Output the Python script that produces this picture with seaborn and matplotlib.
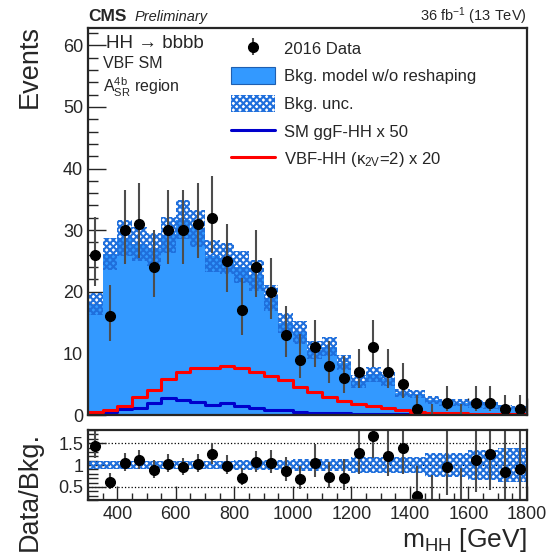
import numpy as np
import pandas as pd
import matplotlib
matplotlib.use("Agg")
import matplotlib.pyplot as plt
import seaborn as sns
from matplotlib.patches import Patch
from matplotlib.lines import Line2D
from matplotlib.ticker import MultipleLocator

# m_HH binning (GeV)
bin_edges = np.arange(300, 1801, 50)
bin_centers = 0.5 * (bin_edges[:-1] + bin_edges[1:])

# observed events per bin
data_counts = [26, 16, 30, 31, 24, 30, 30, 31, 32, 25, 17, 24, 20, 13, 9,
               11, 8, 6, 7, 11, 7, 5, 1, 0, 2, 0, 2, 2, 1, 1]

# background model w/o reshaping
bkg_model = [18.0, 26.1, 28.7, 27.8, 26.9, 29.2, 31.7, 30.3, 25.8, 25.4,
             24.0, 22.7, 19.0, 14.9, 13.4, 10.5, 11.1, 8.5, 5.5, 6.6,
             5.8, 3.6, 3.4, 2.4, 2.1, 2.0, 1.8, 1.6, 1.2, 1.1]

# relative background uncertainty
bkg_rel_unc = [0.10, 0.10, 0.10, 0.10, 0.10, 0.10, 0.10, 0.10, 0.10, 0.10,
               0.11, 0.11, 0.11, 0.11, 0.14, 0.14, 0.14, 0.14, 0.19, 0.19,
               0.19, 0.19, 0.19, 0.27, 0.27, 0.27, 0.35, 0.35, 0.38, 0.38]

# signals (scaled)
sig_ggf_x50 = [0.27, 0.45, 0.9, 1.2, 2.0, 2.7, 2.4, 2.15, 1.6, 1.9,
               1.45, 1.2, 0.8, 0.8, 0.55, 0.35, 0.3, 0.25, 0.2, 0.15,
               0.12, 0.1, 0.08, 0.07, 0.06, 0.05, 0.04, 0.04, 0.03, 0.03]
sig_vbf_x20 = [0.45, 0.8, 1.5, 2.9, 4.05, 5.8, 6.9, 7.6, 7.7, 8.0,
               7.7, 7.0, 6.3, 5.6, 4.6, 3.8, 2.9, 2.3, 1.8, 1.5,
               1.2, 0.8, 0.55, 0.4, 0.3, 0.25, 0.2, 0.15, 0.12, 0.1]

FILL = "#3399ff"
HATCH = "#1f6fdc"
HPAT = "xxxxx"

sns.set_style("ticks")
plt.rcParams["font.family"] = ["Liberation Sans", "DejaVu Sans"]
plt.rcParams["mathtext.fontset"] = "custom"
plt.rcParams["mathtext.rm"] = "Liberation Sans"
plt.rcParams["mathtext.it"] = "Liberation Sans:italic"
plt.rcParams["mathtext.bf"] = "Liberation Sans:bold"
plt.rcParams["mathtext.default"] = "regular"
plt.rcParams["hatch.linewidth"] = 1.5

df = pd.DataFrame({"mhh": bin_centers, "bkg": bkg_model,
                   "ggf": sig_ggf_x50, "vbf": sig_vbf_x20})
hist_kw = dict(bins=len(bin_centers), binrange=(bin_edges[0], bin_edges[-1]),
               element="step")

counts = np.array(data_counts, dtype=float)
bkg = np.array(bkg_model)
rel = np.array(bkg_rel_unc)

# Poisson intervals (Gehrels approx)
err_lo = np.where(counts > 0, np.sqrt(np.clip(counts - 0.25, 0, None)), 0.0)
err_hi = 1.0 + np.sqrt(counts + 0.75)
nz = counts > 0

fig = plt.figure(figsize=(5.53, 5.55), dpi=100)
W, H = 553.0, 555.0
ax = fig.add_axes([88 / W, 1 - 415 / H, 439 / W, 387 / H])
rax = fig.add_axes([88 / W, 1 - 500 / H, 439 / W, 70 / H], sharex=ax)

# ---- main panel ----
sns.histplot(data=df, x="mhh", weights="bkg", fill=True, color=FILL, alpha=1,
             linewidth=0, ax=ax, **hist_kw)
band_lo = bkg * (1 - rel)
band_hi = bkg * (1 + rel)
ax.fill_between(bin_edges, np.r_[band_lo, band_lo[-1]], np.r_[band_hi, band_hi[-1]],
                step="post", facecolor="none", edgecolor=HATCH, hatch=HPAT, linewidth=0)
sns.histplot(data=df, x="mhh", weights="ggf", fill=False, color="#0000cc",
             linewidth=2.2, ax=ax, **hist_kw)
sns.histplot(data=df, x="mhh", weights="vbf", fill=False, color="#ff0000",
             linewidth=2.2, ax=ax, **hist_kw)

data_h = ax.errorbar(bin_centers[nz], counts[nz], yerr=[err_lo[nz], err_hi[nz]],
                     fmt="o", color="black", ms=7, ecolor="0.3", elinewidth=1.5, capsize=0)
ax.errorbar(bin_centers[~nz], counts[~nz], yerr=[err_lo[~nz], err_hi[~nz]],
            fmt="none", ecolor="0.3", elinewidth=1.5, capsize=0)

ax.set_xlim(300, 1800)
ax.set_ylim(0, 62.8)
ax.set_xlabel("")
ax.set_ylabel("")
ax.yaxis.set_major_locator(MultipleLocator(10))
ax.yaxis.set_minor_locator(MultipleLocator(2))
ax.xaxis.set_major_locator(MultipleLocator(200))
ax.xaxis.set_minor_locator(MultipleLocator(50))
ax.tick_params(axis="both", which="both", direction="in", top=False, right=False,
               labelbottom=False, labelsize=13, width=1)
ax.tick_params(axis="y", which="major", length=13)
ax.tick_params(axis="y", which="minor", length=7)
ax.tick_params(axis="x", which="major", length=12)
ax.tick_params(axis="x", which="minor", length=6)

handles = [
    data_h,
    Patch(facecolor=FILL, edgecolor="#1f5fb0", linewidth=0.8),
    Patch(facecolor="white", edgecolor=HATCH, hatch=HPAT, linewidth=0),
    Line2D([], [], color="#0000cc", lw=2.2),
    Line2D([], [], color="#ff0000", lw=2.2),
]
labels = ["2016 Data", "Bkg. model w/o reshaping", "Bkg. unc.",
          "SM ggF-HH x 50", r"VBF-HH ($\kappa_{2V}$=2) x 20"]
ax.legend(handles, labels, loc="upper left", bbox_to_anchor=(0.326, 0.970),
          frameon=False, fontsize=12, handlelength=2.65, handleheight=1.2,
          handletextpad=0.5, labelspacing=0.63, borderpad=0, borderaxespad=0)

# ---- ratio panel ----
ratio = counts / bkg
rax.fill_between(bin_edges, np.r_[1 - rel, 1 - rel[-1]], np.r_[1 + rel, 1 + rel[-1]],
                 step="post", facecolor="none", edgecolor=HATCH, hatch=HPAT, linewidth=0)
for yv in (0.5, 1.0, 1.5):
    rax.axhline(yv, color="black", ls=":", lw=0.9, zorder=0)
rax.errorbar(bin_centers[nz], ratio[nz], yerr=[err_lo[nz] / bkg[nz], err_hi[nz] / bkg[nz]],
             fmt="o", color="black", ms=7, ecolor="0.3", elinewidth=1.5, capsize=0)
rax.errorbar(bin_centers[~nz], ratio[~nz], yerr=[err_lo[~nz] / bkg[~nz], err_hi[~nz] / bkg[~nz]],
             fmt="none", ecolor="0.3", elinewidth=1.5, capsize=0)
rax.set_ylim(0.2, 1.8)
rax.set_yticks([0.5, 1.0, 1.5], labels=["0.5", "1", "1.5"])
rax.yaxis.set_minor_locator(MultipleLocator(0.1))
rax.tick_params(axis="both", which="both", direction="in", top=False, right=False,
                labelsize=13, width=1)
rax.tick_params(axis="y", which="major", length=13)
rax.tick_params(axis="y", which="minor", length=7)
rax.tick_params(axis="x", which="major", length=10, pad=4)
rax.tick_params(axis="x", which="minor", length=5)

for a in (ax, rax):
    for s in a.spines.values():
        s.set_linewidth(1.6)

# ---- labels ----
fig.text(30 / W, 1 - 25 / H, "Events", rotation=90, fontsize=19.5, ha="center", va="top")
fig.text(30 / W, 1 - 491 / H, "Data/Bkg.", rotation=90, fontsize=19.5, ha="center", va="center")
fig.text(527 / W, 1 - 554 / H, r"m$_{HH}$ [GeV]", fontsize=19, ha="right", va="bottom")

fig.text(88 / W, 1 - 21 / H, "CMS", fontsize=12.5, fontweight="bold", ha="left", va="baseline")
fig.text(135 / W, 1 - 21 / H, "Preliminary", fontsize=10.5, style="italic", ha="left", va="baseline")
fig.text(527 / W, 1 - 21 / H, r"36 fb$^{-1}$ (13 TeV)", fontsize=10.5, ha="right", va="baseline")

fig.text(106 / W, 1 - 44 / H, "HH → bbbb", fontsize=13.5, ha="left", va="center")
fig.text(103 / W, 1 - 63 / H, "VBF SM", fontsize=11.5, ha="left", va="center")
fig.text(103 / W, 1 - 87 / H, r"A$_{SR}^{4b}$ region", fontsize=11.5, ha="left", va="center")

fig.savefig("out.png", dpi=100)
